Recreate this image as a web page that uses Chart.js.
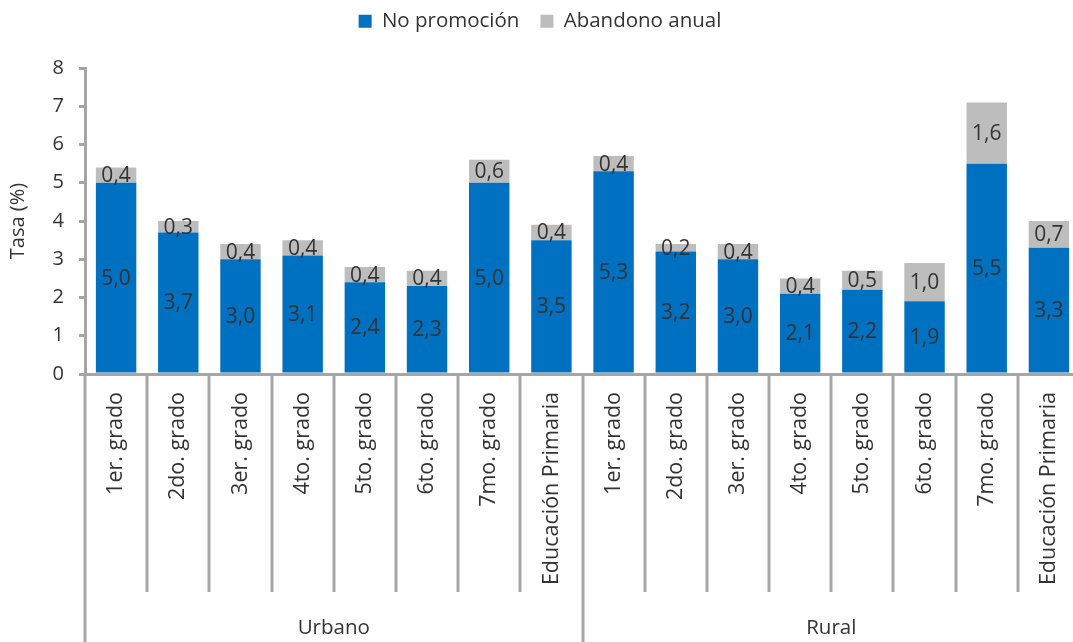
<!DOCTYPE html>
<html>
<head>
<meta charset="utf-8">
<script src="https://cdn.jsdelivr.net/npm/chart.js@4.4.0/dist/chart.umd.min.js"></script>
<style>
  html, body { margin: 0; padding: 0; background: #fff; overflow: hidden; }
  #chart { display: block; }
</style>
</head>
<body>
<canvas id="chart" width="1080" height="642"></canvas>
<script>
const grades = ["1er. grado", "2do. grado", "3er. grado", "4to. grado", "5to. grado", "6to. grado", "7mo. grado", "Educación Primaria"];
const groups = ["Urbano", "Rural"];

const noPromUrbano = [5.0, 3.7, 3.0, 3.1, 2.4, 2.3, 5.0, 3.5];
const abandUrbano  = [0.4, 0.3, 0.4, 0.4, 0.4, 0.4, 0.6, 0.4];
const noPromRural  = [5.3, 3.2, 3.0, 2.1, 2.2, 1.9, 5.5, 3.3];
const abandRural   = [0.4, 0.2, 0.4, 0.4, 0.5, 1.0, 1.6, 0.7];

const yTicks = [0, 1, 2, 3, 4, 5, 6, 7, 8];

const FONT = '"Open Sans", "Noto Sans", sans-serif';
const TEXT = '#333333';
const AXIS = '#a6a6a6';

// value labels in the middle of every segment
const barLabels = {
  id: 'barLabels',
  afterDatasetsDraw(chart) {
    const ctx = chart.ctx;
    ctx.save();
    ctx.font = '21px ' + FONT;
    ctx.fillStyle = TEXT;
    ctx.textAlign = 'center';
    ctx.textBaseline = 'middle';
    chart.data.datasets.forEach((ds, i) => {
      chart.getDatasetMeta(i).data.forEach((bar, j) => {
        const v = ds.data[j];
        ctx.fillText(v.toFixed(1).replace('.', ','), bar.x, (bar.y + bar.base) / 2 + 1);
      });
    });
    ctx.restore();
  }
};

// category separators below the axis + group labels
const groupAxis = {
  id: 'groupAxis',
  afterDraw(chart) {
    const ctx = chart.ctx;
    const x = chart.scales.x;
    const area = chart.chartArea;
    const n = chart.data.labels.length;
    const step = (area.right - area.left) / n;
    ctx.save();
    ctx.strokeStyle = AXIS;
    ctx.lineWidth = 3;
    for (let i = 0; i <= n; i++) {
      const px = Math.round(x.getPixelForValue(0) - step / 2 + i * step);
      const edge = i % grades.length === 0;
      ctx.beginPath();
      ctx.moveTo(px, area.bottom);
      ctx.lineTo(px, edge ? chart.height : area.bottom + 218);
      ctx.stroke();
    }
    ctx.font = '20.5px ' + FONT;
    ctx.fillStyle = TEXT;
    ctx.textAlign = 'center';
    ctx.textBaseline = 'middle';
    groups.forEach((g, k) => {
      const a = x.getPixelForValue(k * grades.length);
      const b = x.getPixelForValue((k + 1) * grades.length - 1);
      ctx.fillText(g, (a + b) / 2, area.bottom + 254);
    });
    ctx.restore();
  }
};

const legendSpace = {
  id: 'legendSpace',
  beforeInit(chart) {
    const fit = chart.legend.fit;
    chart.legend.fit = function () {
      fit.bind(chart.legend)();
      this.height = 78;
    };
  }
};

new Chart(document.getElementById('chart'), {
  type: 'bar',
  data: {
    labels: grades.concat(grades),
    datasets: [
      {
        label: 'No promoción',
        data: noPromUrbano.concat(noPromRural),
        backgroundColor: '#0070c0',
        barPercentage: 0.65,
        categoryPercentage: 1
      },
      {
        label: 'Abandono anual',
        data: abandUrbano.concat(abandRural),
        backgroundColor: '#bdbdbd',
        barPercentage: 0.65,
        categoryPercentage: 1
      }
    ]
  },
  options: {
    responsive: false,
    animation: false,
    layout: { padding: { top: -10, left: 0, right: 0, bottom: 0 } },
    plugins: {
      legend: {
        position: 'top',
        labels: {
          boxWidth: 13,
          boxHeight: 13,
          padding: 21,
          color: TEXT,
          font: { family: FONT, size: 20.5 }
        }
      },
      tooltip: { enabled: false }
    },
    scales: {
      x: {
        stacked: true,
        grid: { display: false, drawTicks: false },
        border: { display: true, color: AXIS, width: 3 },
        ticks: {
          autoSkip: false,
          minRotation: 90,
          maxRotation: 90,
          padding: 18,
          color: TEXT,
          font: { family: FONT, size: 21.5 }
        },
        afterFit(scale) {
          scale.height = 268;
          scale.paddingLeft = 0;
          scale.paddingRight = 0;
        }
      },
      y: {
        stacked: true,
        min: 0,
        max: 8,
        afterBuildTicks(scale) { scale.ticks = yTicks.map(v => ({ value: v })); },
        grid: { drawOnChartArea: false, drawTicks: true, tickLength: 6, color: AXIS, lineWidth: 3 },
        border: { display: true, color: AXIS, width: 3 },
        ticks: {
          padding: 15,
          color: TEXT,
          font: { family: FONT, size: 20 }
        },
        title: {
          display: true,
          text: 'Tasa (%)',
          color: TEXT,
          font: { family: FONT, size: 20 },
          padding: { top: 6, bottom: 0 }
        },
        afterFit(scale) { scale.width = 85; }
      }
    }
  },
  plugins: [barLabels, groupAxis, legendSpace]
});
</script>
</body>
</html>
